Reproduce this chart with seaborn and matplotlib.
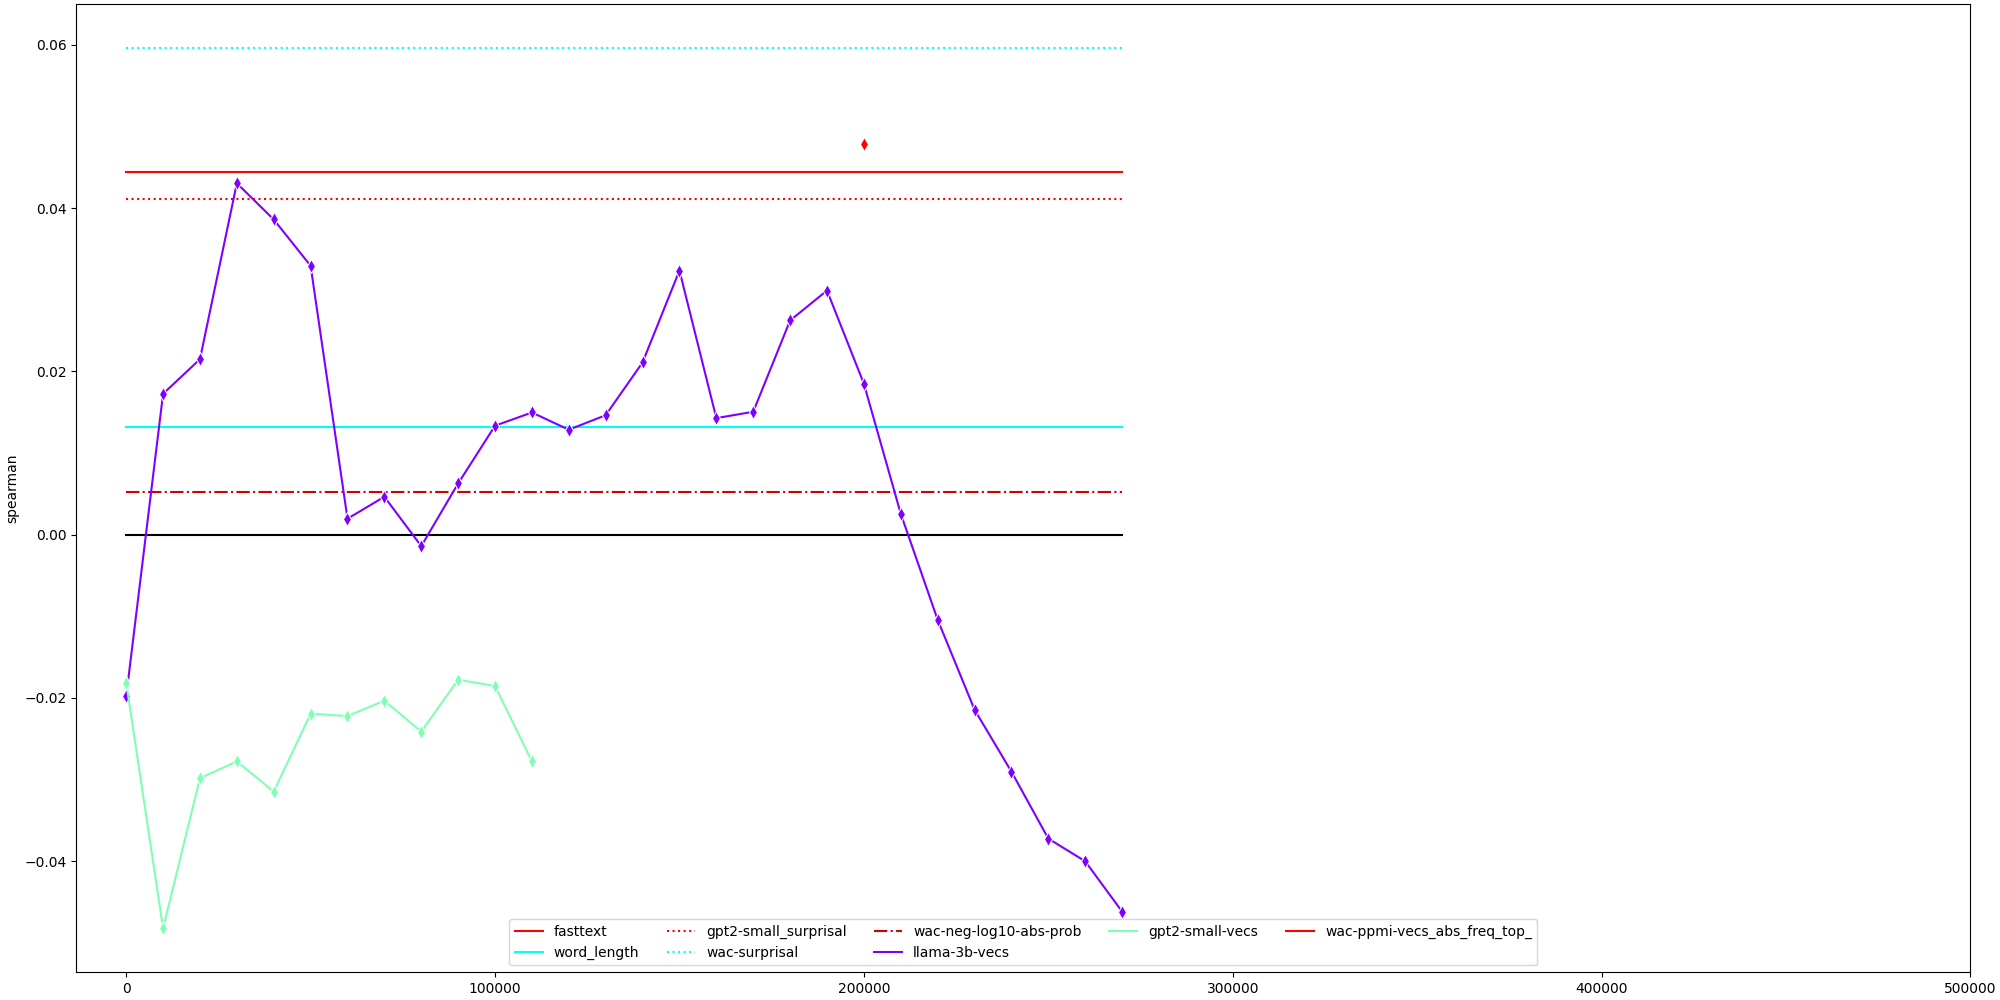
import numpy as np
import pandas as pd
import matplotlib
matplotlib.use("Agg")
import matplotlib.pyplot as plt
from matplotlib.lines import Line2D
import seaborn as sns

# ---- data ----
steps_llama = [0, 10000, 20000, 30000, 40000, 50000, 60000, 70000, 80000, 90000,
               100000, 110000, 120000, 130000, 140000, 150000, 160000, 170000, 180000,
               190000, 200000, 210000, 220000, 230000, 240000, 250000, 260000, 270000]
llama_vals = [-0.0198, 0.01726, 0.0215, 0.04305, 0.03861, 0.03294, 0.00196, 0.00465,
              -0.0014, 0.00628, 0.01335, 0.01497, 0.01286, 0.01464, 0.0211, 0.03236,
              0.01428, 0.01506, 0.02624, 0.02991, 0.01849, 0.00257, -0.01041, -0.02143,
              -0.02902, -0.03722, -0.04, -0.04616]

steps_gpt2 = [0, 10000, 20000, 30000, 40000, 50000, 60000, 70000, 80000, 90000,
              100000, 110000]
gpt2_vals = [-0.01812, -0.04821, -0.02984, -0.02776, -0.03147, -0.02192, -0.02221,
             -0.02033, -0.02412, -0.01775, -0.01854, -0.02776]

steps_ppmi = [200000]
ppmi_vals = [0.04788]

model_names = ["llama-3b-vecs", "gpt2-small-vecs", "wac-ppmi-vecs_abs_freq_top_"]
model_colors = ["#8000ff", "#80ffb4", "#ff0000"]

baseline_names = ["fasttext", "word_length", "gpt2-small_surprisal", "wac-surprisal",
                  "wac-neg-log10-abs-prob"]
baseline_vals = [0.0444, 0.01318, 0.04109, 0.05958, 0.00522]
baseline_colors = ["red", "cyan", "red", "cyan", "#d00000"]
baseline_styles = ["-", "-", ":", ":", "-."]

x_start, x_end = 0, 270000

# ---- build table ----
df = pd.concat([
    pd.DataFrame({"step": steps_llama, "spearman": llama_vals, "model": model_names[0]}),
    pd.DataFrame({"step": steps_gpt2, "spearman": gpt2_vals, "model": model_names[1]}),
    pd.DataFrame({"step": steps_ppmi, "spearman": ppmi_vals, "model": model_names[2]}),
], ignore_index=True)

fig, ax = plt.subplots(figsize=(20, 10), dpi=100)

handles = []
for name, val, col, ls in zip(baseline_names, baseline_vals, baseline_colors, baseline_styles):
    h, = ax.plot([x_start, x_end], [val, val], color=col, linestyle=ls, linewidth=1.5)
    handles.append(Line2D([], [], color=col, linestyle=ls, linewidth=1.5))
ax.plot([x_start, x_end], [0, 0], color="black", linewidth=1.5)

sns.lineplot(data=df, x="step", y="spearman", hue="model", hue_order=model_names,
             palette=dict(zip(model_names, model_colors)), marker="d", markersize=7,
             legend=False, ax=ax)

for col in model_colors:
    handles.append(Line2D([], [], color=col, linewidth=1.5))

ax.legend(handles, baseline_names + model_names, ncol=5, loc="lower center")

ax.set_xlim(right=500000)
ax.set_xlabel("")
ax.set_ylabel("spearman")

fig.subplots_adjust(left=0.0382, right=0.9852, top=0.9957, bottom=0.0277)
fig.savefig("out.png", dpi=100)
